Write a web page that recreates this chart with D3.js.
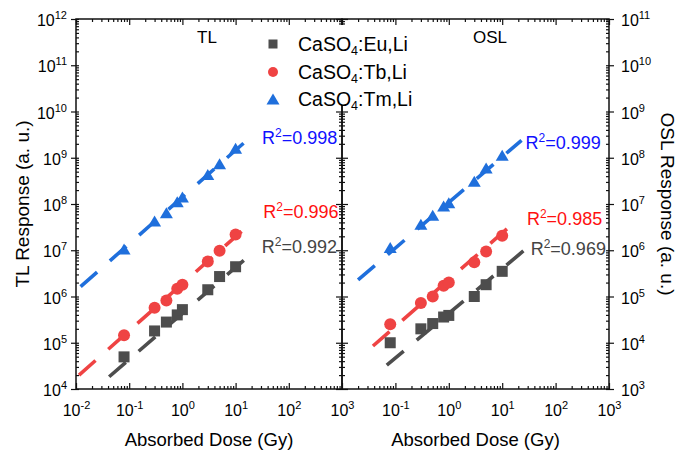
<!DOCTYPE html>
<html><head><meta charset="utf-8">
<script src="https://cdn.jsdelivr.net/npm/d3@7"></script>
<style>body{margin:0;background:#fff}svg{display:block;font-family:"Liberation Sans",Arial,sans-serif}</style>
</head><body><svg id="c" width="690" height="453"></svg>
<script>
// ---- data ----
const doses = [0.08, 0.3, 0.5, 0.8, 1, 3, 5, 10];
const seriesNames = ["Eu", "Tb", "Tm"];
const tlEu = [4.95e4, 1.8e5, 2.8e5, 4.0e5, 5.2e5, 1.4e6, 2.7e6, 4.4e6];
const tlTb = [1.45e5, 5.7e5, 8.2e5, 1.47e6, 1.8e6, 5.7e6, 9.8e6, 2.2e7];
const tlTm = [1.06e7, 4.3e7, 6.5e7, 1.12e8, 1.42e8, 4.35e8, 7.4e8, 1.6e9];
const oslEu = [1.0e4, 2.0e4, 2.6e4, 3.6e4, 3.9e4, 1.0e5, 1.8e5, 3.5e5];
const oslTb = [2.5e4, 7.2e4, 1.0e5, 1.7e5, 2.0e5, 5.5e5, 9.4e5, 2.05e6];
const oslTm = [1.15e6, 3.66e6, 5.7e6, 9.1e6, 1.07e7, 3.1e7, 6.0e7, 1.13e8];
// fitted lines: [x start, x end], [y start, y end]
const tlFitX = [[0.042, 23], [0.0114, 21.5], [0.0122, 23.2]];
const tlFitY = [[1.84e4, 9.75e6], [2.0e4, 4.3e7], [1.64e6, 3.41e9]];
const oslFitX = [[0.069, 27.5], [0.038, 19.7], [0.02, 23]];
const oslFitY = [[3.28e3, 1.06e6], [8.5e3, 4.7e6], [2.29e5, 2.38e8]];
const tlR2 = ["0.992", "0.996", "0.998"];
const oslR2 = ["0.969", "0.985", "0.999"];
const legendLabels = ["Eu,Li", "Tb,Li", "Tm,Li"];
const xTicksLeft = [1e-2, 1e-1, 1e0, 1e1, 1e2, 1e3];
const xTicksRight = [1e-1, 1e0, 1e1, 1e2, 1e3];
const yTicksLeft = [1e4, 1e5, 1e6, 1e7, 1e8, 1e9, 1e10, 1e11, 1e12];
const yTicksRight = [1e3, 1e4, 1e5, 1e6, 1e7, 1e8, 1e9, 1e10, 1e11];

// ---- styles / layout ----
const colors = ["#4d4d4d", "#ef4343", "#1f6fdc"];
const textColors = ["#444444", "#ff1010", "#1010ff"];
const plotTop = 19, plotBottom = 389;
const panels = [
  {x0: 76, x1: 342, yDom: [1e4, 1e12], vals: [tlEu, tlTb, tlTm], fx: tlFitX, fy: tlFitY, r2: tlR2,
   r2Off: [[7, 2], [10, -3], [7, 11]], xt: xTicksLeft, yt: yTicksLeft, side: "left", title: "TL", titleX: 207,
   yTitle: "TL Response (a. u.)", yTitleX: 22},
  {x0: 342, x1: 609, yDom: [1e3, 1e11], vals: [oslEu, oslTb, oslTm], fx: oslFitX, fy: oslFitY, r2: oslR2,
   r2Off: [[5, 6], [9, 6], [4, 9]], xt: xTicksRight, yt: yTicksRight, side: "right", title: "OSL", titleX: 490,
   yTitle: "OSL Response (a. u.)", yTitleX: 668}
];

const svg = d3.select("#c");

function minorTicks(dom) {
  const out = [];
  const a = Math.round(Math.log10(dom[0])), b = Math.round(Math.log10(dom[1]));
  for (let e = a; e < b; e++) for (let k = 2; k <= 9; k++) out.push(k * Math.pow(10, e));
  return out;
}
function powLabel(sel, sup) {
  sel.each(function(d) {
    const t = d3.select(this);
    t.text(null);
    const e = Math.round(Math.log10(d));
    t.append("tspan").text("10");
    t.append("tspan").attr("dy", -7).attr("font-size", sup).text(e < 0 ? "-" + (-e) : e);
  });
}
function styleAxis(g) {
  g.select(".domain").remove();
  g.selectAll("line").attr("stroke", "#111").attr("stroke-width", 1.2);
}

function marker(sel, i, s) {
  if (i === 0) {
    sel.append("rect").attr("x", -s / 2).attr("y", -s / 2).attr("width", s).attr("height", s);
  } else if (i === 1) {
    sel.append("circle").attr("r", s / 2 + 0.5);
  } else {
    const w = s + 2, h = s;
    sel.append("path").attr("d", `M0,${-h / 2}L${w / 2},${h / 2}L${-w / 2},${h / 2}Z`);
  }
}

panels.forEach(p => {
  const x = d3.scaleLog().domain([1e-2, 1e3]).range([p.x0, p.x1]);
  const y = d3.scaleLog().domain(p.yDom).range([plotBottom, plotTop]);
  const g = svg.append("g");

  // fit lines
  p.fx.forEach((fx, i) => {
    g.append("line")
      .attr("x1", x(fx[0])).attr("y1", y(p.fy[i][0]))
      .attr("x2", x(fx[1])).attr("y2", y(p.fy[i][1]))
      .attr("stroke", colors[i]).attr("stroke-width", 3.6)
      .attr("stroke-dasharray", "22 17");
  });
  // markers
  p.vals.forEach((vals, i) => {
    g.selectAll(null).data(vals).enter().append("g")
      .attr("transform", (v, j) => `translate(${x(doses[j])},${y(v)})`)
      .attr("fill", colors[i])
      .each(function() { marker(d3.select(this), i, 11); });
  });
  // R2 labels
  p.r2.forEach((r, i) => {
    const ex = x(p.fx[i][1]) + p.r2Off[i][0], ey = y(p.fy[i][1]) + p.r2Off[i][1];
    const t = g.append("text").attr("x", ex).attr("y", ey).attr("font-size", 18).attr("fill", textColors[i]);
    t.append("tspan").text("R");
    t.append("tspan").attr("dy", -7).attr("font-size", 12).text("2");
    t.append("tspan").attr("dy", 7).text("=" + r);
  });

  // axes
  const bottomMajor = d3.axisBottom(x).tickValues(p.xt).tickSizeInner(-6).tickSizeOuter(0).tickPadding(16);
  const gb = svg.append("g").attr("transform", `translate(0,${plotBottom})`).call(bottomMajor);
  styleAxis(gb);
  gb.selectAll(".tick text").attr("font-size", 16).attr("fill", "#000").attr("font-family", "Liberation Sans, Arial").call(powLabel, 11);
  const gbm = svg.append("g").attr("transform", `translate(0,${plotBottom})`)
    .call(d3.axisBottom(x).tickValues(minorTicks([1e-2, 1e3])).tickSize(-3).tickFormat(""));
  styleAxis(gbm);
  const gt = svg.append("g").attr("transform", `translate(0,${plotTop})`)
    .call(d3.axisTop(x).tickValues(p.xt.concat([1e-2])).tickSize(-6).tickFormat(""));
  styleAxis(gt);
  const gtm = svg.append("g").attr("transform", `translate(0,${plotTop})`)
    .call(d3.axisTop(x).tickValues(minorTicks([1e-2, 1e3])).tickSize(-3).tickFormat(""));
  styleAxis(gtm);

  const outerX = p.side === "left" ? p.x0 : p.x1;
  const innerX = p.side === "left" ? p.x1 : p.x0;
  const outerAxis = p.side === "left" ? d3.axisLeft : d3.axisRight;
  const ga = svg.append("g").attr("transform", `translate(${outerX},0)`)
    .call(outerAxis(y).tickValues(p.yt).tickSize(5).tickPadding(p.side === "left" ? 4 : 7));
  styleAxis(ga);
  ga.selectAll(".tick text").attr("font-size", 16).attr("fill", "#000").attr("dy", "0.42em")
    .attr("font-family", "Liberation Sans, Arial").call(powLabel, 11);
  const gai = svg.append("g").attr("transform", `translate(${outerX},0)`)
    .call(outerAxis(y).tickValues(p.yt).tickSize(-3).tickFormat(""));
  styleAxis(gai);
  const gam = svg.append("g").attr("transform", `translate(${outerX},0)`)
    .call(outerAxis(y).tickValues(minorTicks(p.yDom)).tickSize(-3).tickFormat(""));
  styleAxis(gam);
  const innerAxis = p.side === "left" ? d3.axisRight : d3.axisLeft;
  const gi = svg.append("g").attr("transform", `translate(${innerX},0)`)
    .call(innerAxis(y).tickValues(p.yt).tickSize(-6).tickFormat(""));
  styleAxis(gi);
  const gim = svg.append("g").attr("transform", `translate(${innerX},0)`)
    .call(innerAxis(y).tickValues(minorTicks(p.yDom)).tickSize(-3).tickFormat(""));
  styleAxis(gim);

  // frame
  svg.append("rect").attr("x", p.x0).attr("y", plotTop).attr("width", p.x1 - p.x0).attr("height", plotBottom - plotTop)
    .attr("fill", "none").attr("stroke", "#111").attr("stroke-width", 1.5);

  // titles
  svg.append("text").attr("x", p.titleX).attr("y", 43).attr("text-anchor", "middle")
    .attr("font-size", 17).text(p.title);
  svg.append("text").attr("x", (p.x0 + p.x1) / 2).attr("y", 446).attr("text-anchor", "middle")
    .attr("font-size", 18.5).text("Absorbed Dose (Gy)");
  svg.append("text").attr("transform", `translate(${p.yTitleX},${(plotTop + plotBottom) / 2}) rotate(${p.side === "left" ? -90 : 90})`)
    .attr("text-anchor", "middle").attr("dy", "0.35em").attr("font-size", 19).text(p.yTitle);
});

// legend
const lg = svg.append("g");
lg.append("rect").attr("x", 258).attr("y", 25).attr("width", 170).attr("height", 80).attr("fill", "#fff");
const rowsY = [44, 72, 99];
legendLabels.forEach((lab, i) => {
  const m = lg.append("g").attr("transform", `translate(273,${rowsY[i]})`).attr("fill", colors[i]);
  marker(m, i, i === 2 ? 11 : 9);
  const t = lg.append("text").attr("x", 298).attr("y", rowsY[i] + 7).attr("font-size", 19.5).attr("fill", "#000");
  t.append("tspan").text("CaSO");
  t.append("tspan").attr("dy", 4).attr("font-size", 12.5).text("4");
  t.append("tspan").attr("dy", -4).text(":" + lab);
});
</script></body></html>
